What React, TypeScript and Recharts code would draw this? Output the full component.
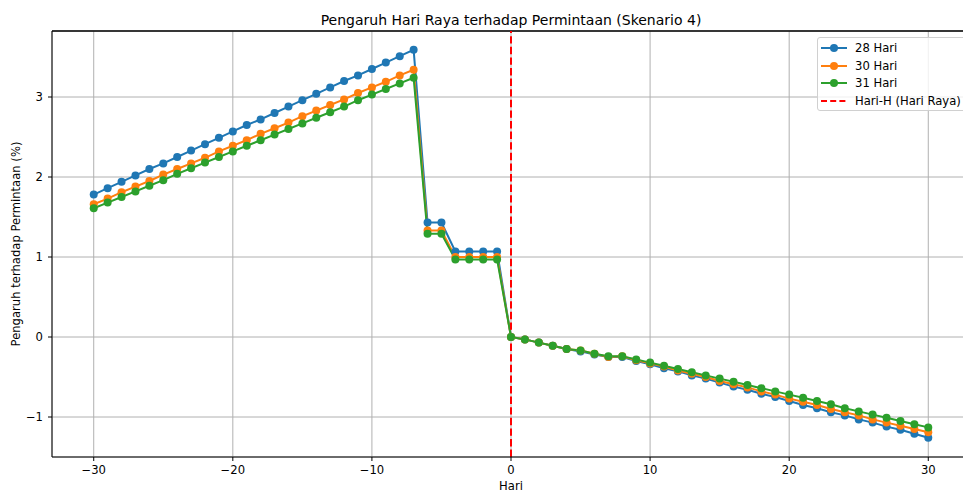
import React from "react";
import {
  CartesianGrid,
  Legend,
  Line,
  LineChart,
  ReferenceLine,
  XAxis,
  YAxis,
} from "recharts";

// hari relatif terhadap Hari Raya
const DAYS = [
  -30, -29, -28, -27, -26, -25, -24, -23, -22, -21, -20, -19, -18, -17, -16,
  -15, -14, -13, -12, -11, -10, -9, -8, -7, -6, -5, -4, -3, -2, -1, 0, 1, 2,
  3, 4, 5, 6, 7, 8, 9, 10, 11, 12, 13, 14, 15, 16, 17, 18, 19, 20, 21, 22, 23,
  24, 25, 26, 27, 28, 29, 30,
];

const HARI_28 = [
  1.78, 1.86, 1.94, 2.02, 2.1, 2.17, 2.25, 2.33, 2.41, 2.49, 2.57, 2.65, 2.72,
  2.8, 2.88, 2.96, 3.04, 3.12, 3.2, 3.27, 3.35, 3.43, 3.51, 3.59, 1.43, 1.43,
  1.07, 1.07, 1.07, 1.07, 0, -0.03, -0.07, -0.11, -0.15, -0.18, -0.22, -0.25,
  -0.25, -0.3, -0.34, -0.39, -0.43, -0.48, -0.52, -0.57, -0.62, -0.66, -0.71,
  -0.75, -0.8, -0.85, -0.89, -0.94, -0.98, -1.03, -1.07, -1.12, -1.16, -1.21,
  -1.26,
];

const HARI_30 = [
  1.66, 1.73, 1.81, 1.88, 1.95, 2.03, 2.1, 2.17, 2.24, 2.32, 2.39, 2.46, 2.54,
  2.61, 2.68, 2.76, 2.83, 2.9, 2.97, 3.05, 3.12, 3.19, 3.27, 3.34, 1.33, 1.33,
  1.0, 1.0, 1.0, 1.0, 0, -0.03, -0.07, -0.11, -0.15, -0.17, -0.21, -0.25,
  -0.24, -0.29, -0.33, -0.37, -0.42, -0.46, -0.5, -0.55, -0.59, -0.63, -0.68,
  -0.72, -0.77, -0.81, -0.85, -0.9, -0.94, -0.98, -1.03, -1.07, -1.11, -1.15,
  -1.19,
];

const HARI_31 = [
  1.61, 1.68, 1.75, 1.82, 1.89, 1.96, 2.04, 2.11, 2.18, 2.25, 2.32, 2.39, 2.46,
  2.53, 2.6, 2.67, 2.74, 2.81, 2.88, 2.96, 3.03, 3.1, 3.17, 3.24, 1.29, 1.29,
  0.97, 0.97, 0.97, 0.97, 0, -0.03, -0.07, -0.11, -0.15, -0.17, -0.21, -0.24,
  -0.24, -0.28, -0.32, -0.36, -0.4, -0.44, -0.48, -0.52, -0.56, -0.6, -0.64,
  -0.68, -0.72, -0.76, -0.8, -0.84, -0.89, -0.93, -0.97, -1.01, -1.05, -1.09,
  -1.13,
];

const X_TICKS = [-30, -20, -10, 0, 10, 20, 30];
const Y_TICKS = [-1, 0, 1, 2, 3];

const SERIES = [
  { key: "h28", name: "28 Hari", color: "#1f77b4" },
  { key: "h30", name: "30 Hari", color: "#ff7f0e" },
  { key: "h31", name: "31 Hari", color: "#2ca02c" },
];

const FONT = "'DejaVu Sans', sans-serif";
const FS = 11.6;

const data = DAYS.map((day, i) => ({
  day,
  h28: HARI_28[i],
  h30: HARI_30[i],
  h31: HARI_31[i],
}));

const fmt = (v: number) => String(v).replace("-", "\u2212");

function LegendBox() {
  return (
    <div
      style={{
        width: 150,
        height: 74,
        boxSizing: "border-box",
        border: "1px solid #d0d0d0",
        borderRadius: 3,
        background: "rgba(255,255,255,0.8)",
        padding: "1px 0 0 3px",
        fontFamily: FONT,
        fontSize: FS,
        color: "#000",
        whiteSpace: "nowrap",
      }}
    >
      {SERIES.map((s) => (
        <div
          key={s.key}
          style={{ display: "flex", alignItems: "center", height: 17.7 }}
        >
          <svg width={27} height={10} style={{ marginRight: 7, flexShrink: 0 }}>
            <line x1={0} y1={5} x2={26} y2={5} stroke={s.color} strokeWidth={2} />
            <circle cx={13} cy={5} r={4} fill={s.color} />
          </svg>
          <span>{s.name}</span>
        </div>
      ))}
      <div style={{ display: "flex", alignItems: "center", height: 17.7 }}>
        <svg width={27} height={10} style={{ marginRight: 7, flexShrink: 0 }}>
          <line
            x1={0}
            y1={5}
            x2={26}
            y2={5}
            stroke="#ff0000"
            strokeWidth={2}
            strokeDasharray="6 3.2"
          />
        </svg>
        <span>Hari-H (Hari Raya)</span>
      </div>
    </div>
  );
}

function YLabel() {
  const cy = 244;
  return (
    <text
      x={16}
      y={cy}
      transform={`rotate(-90, 16, ${cy})`}
      textAnchor="middle"
      dominantBaseline="central"
      fontFamily={FONT}
      fontSize={FS}
      fill="#000"
    >
      Pengaruh terhadap Permintaan (%)
    </text>
  );
}

function XLabel() {
  return (
    <text
      x={511}
      y={486}
      textAnchor="middle"
      dominantBaseline="central"
      fontFamily={FONT}
      fontSize={FS}
      fill="#000"
    >
      Hari
    </text>
  );
}

export default function App() {
  return (
    <div
      style={{
        position: "relative",
        width: 963,
        height: 493,
        overflow: "hidden",
        background: "#fff",
      }}
    >
      <style>{`body{margin:0}`}</style>

      <div
        style={{
          position: "absolute",
          top: 11,
          left: 511,
          transform: "translateX(-50%)",
          whiteSpace: "nowrap",
          fontFamily: FONT,
          fontSize: 14,
          lineHeight: "18px",
          color: "#000",
          zIndex: 2,
        }}
      >
        Pengaruh Hari Raya terhadap Permintaan (Skenario 4)
      </div>

      <LineChart
        width={970}
        height={493}
        data={data}
        margin={{ top: 31, right: 0, left: 0, bottom: 0 }}
      >
        <CartesianGrid stroke="#b0b0b0" strokeWidth={1} />

        <XAxis
          dataKey="day"
          type="number"
          domain={[-33, 33]}
          ticks={X_TICKS}
          allowDataOverflow
          height={36}
          tickSize={4}
          tickMargin={5}
          tickFormatter={fmt}
          stroke="#000"
          tick={{ fill: "#000", fontSize: FS, fontFamily: FONT }}
          label={<XLabel />}
        />

        <YAxis
          type="number"
          domain={[-1.5, 3.825]}
          ticks={Y_TICKS}
          allowDataOverflow
          width={52}
          tickSize={4}
          tickMargin={5}
          tickFormatter={fmt}
          stroke="#000"
          tick={{ fill: "#000", fontSize: FS, fontFamily: FONT }}
          label={<YLabel />}
        />

        <ReferenceLine y={3.825} stroke="#000" strokeWidth={1.5} />

        {SERIES.map((s) => (
          <Line
            key={s.key}
            type="linear"
            dataKey={s.key}
            name={s.name}
            stroke={s.color}
            strokeWidth={2}
            dot={{ r: 4, fill: s.color, stroke: "none" }}
            activeDot={false}
            isAnimationActive={false}
          />
        ))}

        <ReferenceLine
          x={0}
          stroke="#ff0000"
          strokeWidth={2}
          strokeDasharray="7.4 3.2"
        />

        <Legend
          layout="vertical"
          align="center"
          verticalAlign="middle"
          wrapperStyle={{ top: 37, left: 817, width: 150 }}
          content={() => <LegendBox />}
        />
      </LineChart>
    </div>
  );
}
